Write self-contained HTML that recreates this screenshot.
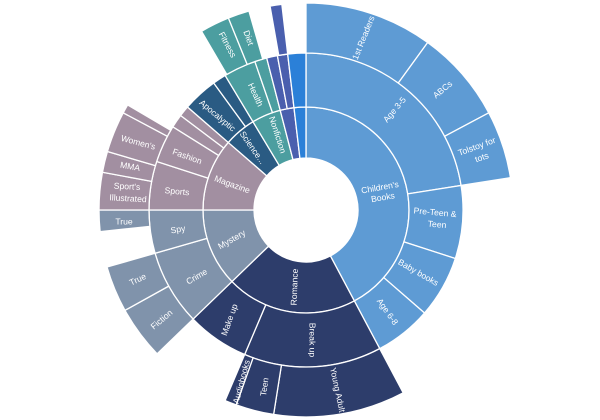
<!DOCTYPE html>
<html><head><meta charset="utf-8">
<style>
html,body{margin:0;padding:0;background:#fff;}
svg{display:block;}
text{font-family:"Liberation Sans",sans-serif;font-size:8.6px;fill:#fff;text-anchor:middle;dominant-baseline:middle;}
</style></head>
<body>
<svg id="s" width="600" height="420" viewBox="0 0 600 420" xmlns="http://www.w3.org/2000/svg">
<g id="arcs"></g>
<g id="labels">
<text transform="translate(380,188) rotate(-10)">Children's</text>
<text transform="translate(383,198) rotate(-10)">Books</text>
<text transform="translate(395,110) rotate(-50)">Age 3-5</text>
<text transform="translate(364,38) rotate(-68)">1st Readers</text>
<text transform="translate(443,90) rotate(-40)">ABCs</text>
<text transform="translate(477,147) rotate(-20)">Tolstoy for</text>
<text transform="translate(482,158) rotate(-20)">tots</text>
<text transform="translate(435,213) rotate(5)">Pre-Teen &amp;</text>
<text transform="translate(437,225) rotate(5)">Teen</text>
<text transform="translate(418,273) rotate(30)">Baby books</text>
<text transform="translate(387,312) rotate(55)">Age 6-8</text>
<text transform="translate(295,287) rotate(-88)">Romance</text>
<text transform="translate(230,320) rotate(-70)">Make up</text>
<text transform="translate(312,340) rotate(90)">Break up</text>
<text transform="translate(337,390) rotate(78)">Young Adult</text>
<text transform="translate(265,387) rotate(-82)">Teen</text>
<text transform="translate(242,382) rotate(-75)">Audiobooks</text>
<text transform="translate(232,240) rotate(-30)">Mystery</text>
<text transform="translate(197,277) rotate(-30)">Crime</text>
<text transform="translate(178,230) rotate(-10)">Spy</text>
<text transform="translate(138,280) rotate(-25)">True</text>
<text transform="translate(162,320) rotate(-40)">Fiction</text>
<text transform="translate(124,222)">True</text>
<text transform="translate(232,185) rotate(20)">Magazine</text>
<text transform="translate(177,192) rotate(5)">Sports</text>
<text transform="translate(127,187) rotate(3)">Sport's</text>
<text transform="translate(128,199) rotate(3)">Illustrated</text>
<text transform="translate(187,157) rotate(20)">Fashion</text>
<text transform="translate(130,167) rotate(10)">MMA</text>
<text transform="translate(138,143) rotate(15)">Women's</text>
<text transform="translate(217,116) rotate(40)">Apocalyptic</text>
<text transform="translate(252,148) rotate(55)">Science...</text>
<text transform="translate(277,135) rotate(72)">Nonfiction</text>
<text transform="translate(255,95) rotate(65)">Health</text>
<text transform="translate(227,45) rotate(62)">Fitness</text>
<text transform="translate(248,38) rotate(70)">Diet</text>
</g>
</svg>
<script>
var cx=306,cy=210,R=[52,103,157,207];
var C={cb:'#5e9bd4',ro:'#2d3d6b',my:'#8093ab',ma:'#a28fa1',sc:'#2a5b83',nf:'#4c9ea0',pu:'#4a5fae',bb:'#2b80d8'};
var segs=[
[0,0,152,'cb'],[0,152,226,'ro'],[0,226,270,'my'],[0,270,311,'ma'],[0,311,329,'sc'],[0,329,345.5,'nf'],[0,345.5,353.3,'pu'],[0,353.3,360,'bb'],
[1,0,81,'cb'],[1,81,108,'cb'],[1,108,131,'cb'],[1,131,152,'cb'],[1,152,203,'ro'],[1,203,226,'ro'],[1,226,254,'my'],[1,254,270,'my'],
[1,270,288,'ma'],[1,288,302,'ma'],[1,302,307,'ma'],[1,307,311,'ma'],[1,311,324,'sc'],[1,324,329,'sc'],[1,329,341,'nf'],[1,341,345.5,'nf'],
[1,345.5,349.5,'pu'],[1,349.5,353.3,'pu'],[1,353.3,360,'bb'],
[2,0,36,'cb'],[2,36,62,'cb'],[2,62,81,'cb'],[2,152,189,'ro'],[2,189,199.7,'ro'],[2,199.7,203,'ro'],[2,226,241,'my'],[2,241,254,'my'],[2,264,270,'my'],
[2,270,280.5,'ma'],[2,280.5,286.4,'ma'],[2,286.4,298,'ma'],[2,298,300.5,'ma'],[2,329.7,338,'nf'],[2,338,344,'nf'],[2,350,353.3,'pu']
];
function pt(a,r){a=a*Math.PI/180;return (cx+r*Math.sin(a)).toFixed(2)+','+(cy-r*Math.cos(a)).toFixed(2);}
var g=document.getElementById('arcs'),h='';
segs.forEach(function(s){var r0=R[s[0]],r1=R[s[0]+1],a0=s[1],a1=s[2],l=(a1-a0)>180?1:0;
h+='<path d="M'+pt(a0,r0)+' L'+pt(a0,r1)+' A'+r1+','+r1+' 0 '+l+' 1 '+pt(a1,r1)+' L'+pt(a1,r0)+' A'+r0+','+r0+' 0 '+l+' 0 '+pt(a0,r0)+'Z" fill="'+C[s[3]]+'" stroke="#fff" stroke-width="1.3"/>';});
g.innerHTML=h;
</script>
</body></html>
